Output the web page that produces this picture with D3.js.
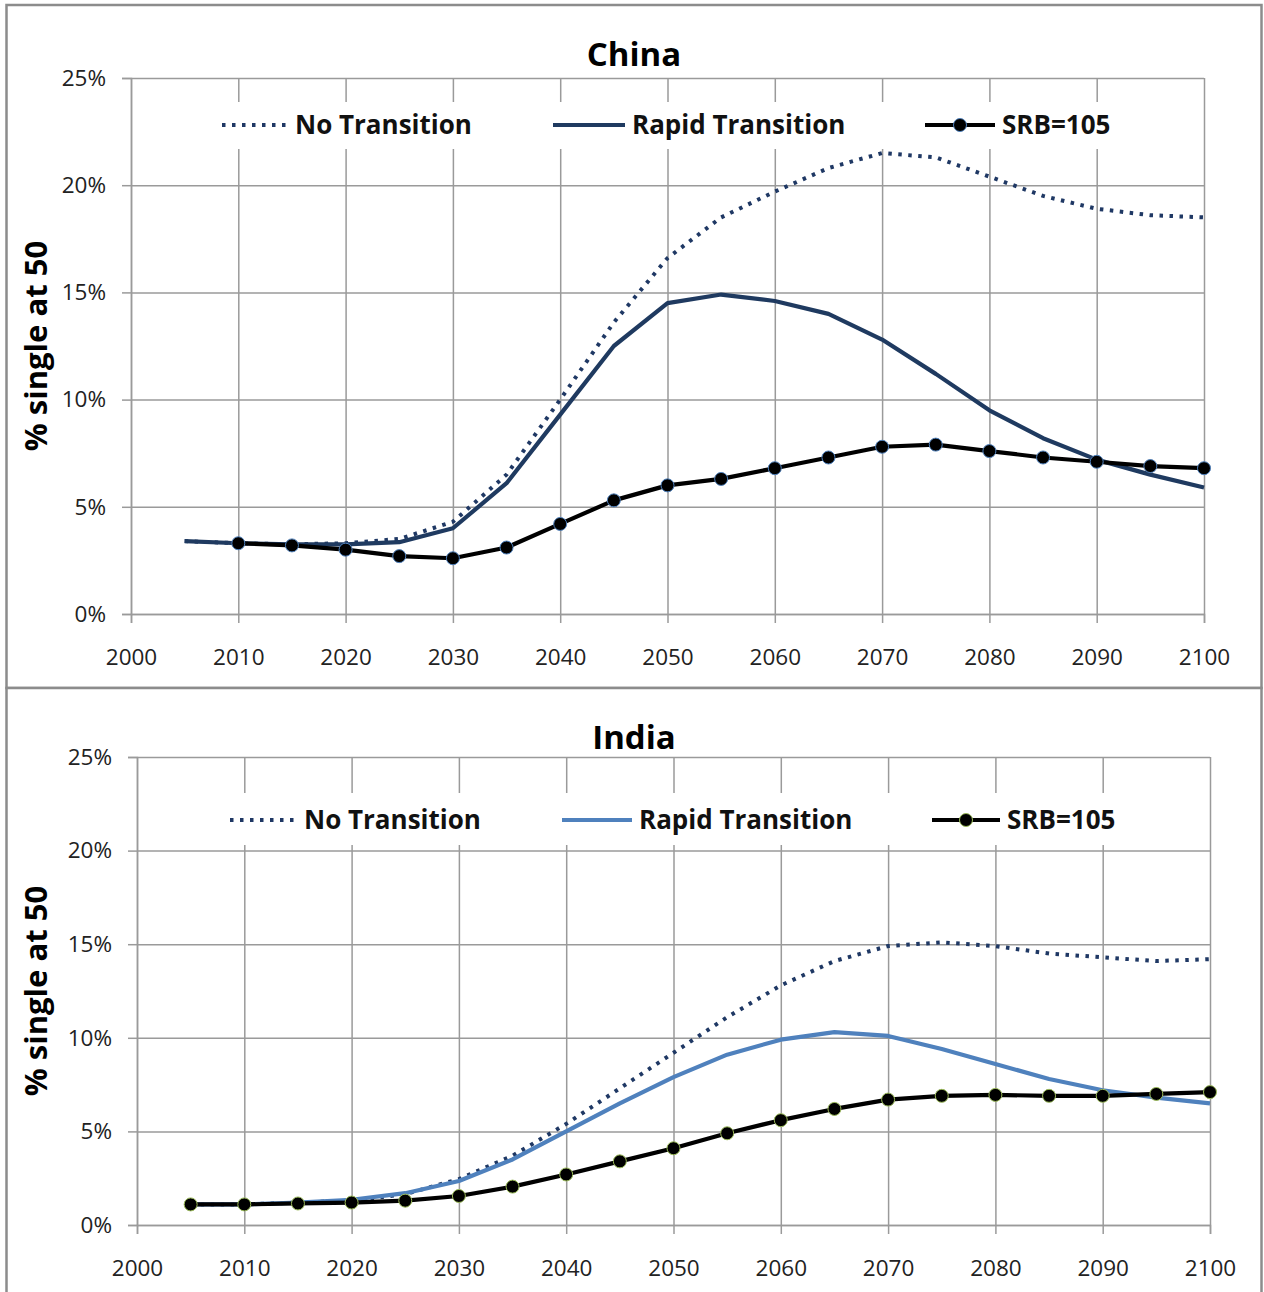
<!DOCTYPE html>
<html>
<head>
<meta charset="utf-8">
<script src="https://cdn.jsdelivr.net/npm/d3@7/dist/d3.min.js"></script>
<style>
  html, body { margin: 0; padding: 0; background: #fff; }
  svg { display: block; }
</style>
</head>
<body>
<svg id="chart" width="1264" height="1292"></svg>
<script>
// ---------- DATA ----------
const years = [2005, 2010, 2015, 2020, 2025, 2030, 2035, 2040, 2045, 2050, 2055, 2060, 2065, 2070, 2075, 2080, 2085, 2090, 2095, 2100];
const xTicks = [2000, 2010, 2020, 2030, 2040, 2050, 2060, 2070, 2080, 2090, 2100];
const yTicks = [0, 5, 10, 15, 20, 25];
const seriesNames = ["No Transition", "Rapid Transition", "SRB=105"];

const chinaNoTransition = [3.4, 3.3, 3.25, 3.3, 3.5, 4.3, 6.5, 10.0, 13.6, 16.6, 18.5, 19.7, 20.8, 21.5, 21.3, 20.4, 19.5, 18.9, 18.6, 18.5];
const chinaRapid        = [3.4, 3.3, 3.25, 3.25, 3.35, 4.0, 6.1, 9.3, 12.5, 14.5, 14.9, 14.6, 14.0, 12.8, 11.2, 9.5, 8.2, 7.2, 6.5, 5.9];
const chinaSRB          = [null, 3.3, 3.2, 3.0, 2.7, 2.6, 3.1, 4.2, 5.3, 6.0, 6.3, 6.8, 7.3, 7.8, 7.9, 7.6, 7.3, 7.1, 6.9, 6.8];

const indiaNoTransition = [1.1, 1.1, 1.2, 1.3, 1.65, 2.45, 3.7, 5.4, 7.3, 9.2, 11.1, 12.8, 14.1, 14.9, 15.1, 14.9, 14.5, 14.3, 14.1, 14.2];
const indiaRapid        = [1.1, 1.1, 1.2, 1.35, 1.7, 2.35, 3.5, 5.0, 6.5, 7.9, 9.1, 9.9, 10.3, 10.1, 9.4, 8.6, 7.8, 7.2, 6.8, 6.5];
const indiaSRB          = [1.1, 1.1, 1.15, 1.2, 1.3, 1.55, 2.05, 2.7, 3.4, 4.1, 4.9, 5.6, 6.2, 6.7, 6.9, 6.95, 6.9, 6.9, 7.0, 7.1];

// ---------- LAYOUT ----------
const svg = d3.select("#chart");
const FONT = "'Open Sans', Lato, 'DejaVu Sans', sans-serif";

const panels = [
  {
    title: "China", top: 5, bottom: 688,
    x0: 131, x1: 1204, yTop: 78, yBot: 614,
    titleY: 66, xLabelY: 665,
    legendY: 125, legendBox: [205, 102, 940, 47],
    legendX: [222, 553, 925], legendLen: [66, 72, 70],
    noTrans: chinaNoTransition, rapid: chinaRapid, srb: chinaSRB,
    noColor: "#1F3864", rapidColor: "#1F3A60", markerStroke: "#4F81BD"
  },
  {
    title: "India", top: 688, bottom: 1300,
    x0: 137, x1: 1210, yTop: 757, yBot: 1225,
    titleY: 749, xLabelY: 1276,
    legendY: 820, legendBox: [215, 793, 930, 52],
    legendX: [230, 562, 932], legendLen: [67, 70, 68],
    noTrans: indiaNoTransition, rapid: indiaRapid, srb: indiaSRB,
    noColor: "#1F3864", rapidColor: "#4F81BD", markerStroke: "#9BBB59"
  }
];

// panel frames
panels.forEach(p => {
  svg.append("rect")
    .attr("x", 6.5).attr("y", p.top)
    .attr("width", 1255).attr("height", p.bottom - p.top)
    .attr("fill", "#fff").attr("stroke", "#8c8c8c").attr("stroke-width", 2.5);
});

panels.forEach(p => {
  const x = d3.scaleLinear().domain([2000, 2100]).range([p.x0, p.x1]);
  const y = d3.scaleLinear().domain([0, 25]).range([p.yBot, p.yTop]);
  const g = svg.append("g");

  // horizontal gridlines
  g.append("g").attr("transform", `translate(${p.x0},0)`)
    .call(d3.axisLeft(y).tickValues(yTicks).tickSize(-(p.x1 - p.x0)).tickFormat(""))
    .call(s => s.select(".domain").remove())
    .call(s => s.selectAll("line").attr("stroke", "#9a9a9a").attr("stroke-width", 1.5));
  // vertical gridlines
  g.append("g").attr("transform", `translate(0,${p.yBot})`)
    .call(d3.axisBottom(x).tickValues(xTicks).tickSize(-(p.yBot - p.yTop)).tickFormat(""))
    .call(s => s.select(".domain").remove())
    .call(s => s.selectAll("line").attr("stroke", "#9a9a9a").attr("stroke-width", 1.5));

  // y axis with outer ticks and labels
  g.append("g").attr("transform", `translate(${p.x0},0)`)
    .call(d3.axisLeft(y).tickValues(yTicks).tickSize(9).tickPadding(16).tickFormat(d => d + "%"))
    .call(s => s.select(".domain").attr("stroke", "#9a9a9a").attr("stroke-width", 1.5))
    .call(s => s.selectAll("line").attr("stroke", "#9a9a9a").attr("stroke-width", 1.5))
    .call(s => s.selectAll("text").attr("font-family", FONT).attr("font-size", 22.5).attr("fill", "#222"));
  // x axis
  g.append("g").attr("transform", `translate(0,${p.yBot})`)
    .call(d3.axisBottom(x).tickValues(xTicks).tickSize(9).tickFormat(d3.format("d")))
    .call(s => s.select(".domain").attr("stroke", "#9a9a9a").attr("stroke-width", 1.5))
    .call(s => s.selectAll("line").attr("stroke", "#9a9a9a").attr("stroke-width", 1.5))
    .call(s => s.selectAll("text").attr("font-family", FONT).attr("font-size", 22.5).attr("fill", "#222")
      .attr("dy", null).attr("y", p.xLabelY - p.yBot));

  // legend background
  g.append("rect")
    .attr("x", p.legendBox[0]).attr("y", p.legendBox[1])
    .attr("width", p.legendBox[2]).attr("height", p.legendBox[3])
    .attr("fill", "#fff");

  // title
  g.append("text").attr("x", 634).attr("y", p.titleY).attr("text-anchor", "middle")
    .attr("font-family", FONT).attr("font-weight", "bold").attr("font-size", 33)
    .attr("fill", "#000").text(p.title);

  // y axis title
  const ymid = (p.yTop + p.yBot) / 2;
  g.append("text").attr("transform", `translate(47,${ymid}) rotate(-90)`)
    .attr("text-anchor", "middle")
    .attr("font-family", FONT).attr("font-weight", "bold").attr("font-size", 31)
    .attr("fill", "#000").text("% single at 50");

  const line = d3.line().defined(d => d[1] != null).x(d => x(d[0])).y(d => y(d[1]));
  const pts = arr => years.map((yr, i) => [yr, arr[i]]);

  // series lines
  g.append("path").datum(pts(p.noTrans)).attr("d", line)
    .attr("fill", "none").attr("stroke", p.noColor).attr("stroke-width", 4)
    .attr("stroke-dasharray", "3.5,6.5");
  g.append("path").datum(pts(p.rapid)).attr("d", line)
    .attr("fill", "none").attr("stroke", p.rapidColor).attr("stroke-width", 4.2)
    .attr("stroke-linejoin", "round");
  g.append("path").datum(pts(p.srb)).attr("d", line)
    .attr("fill", "none").attr("stroke", "#000").attr("stroke-width", 4.2)
    .attr("stroke-linejoin", "round");
  g.selectAll("circle.m").data(pts(p.srb).filter(d => d[1] != null)).enter()
    .append("circle").attr("class", "m")
    .attr("cx", d => x(d[0])).attr("cy", d => y(d[1])).attr("r", 6.5)
    .attr("fill", "#000").attr("stroke", p.markerStroke).attr("stroke-width", 1);

  // legend
  const styles = [
    {color: p.noColor, dash: "3.5,6.5", marker: false},
    {color: p.rapidColor, dash: null, marker: false},
    {color: "#000", dash: null, marker: true}
  ];
  seriesNames.forEach((name, i) => {
    const lx = p.legendX[i], len = p.legendLen[i];
    g.append("line").attr("x1", lx).attr("x2", lx + len)
      .attr("y1", p.legendY).attr("y2", p.legendY)
      .attr("stroke", styles[i].color).attr("stroke-width", 4)
      .attr("stroke-dasharray", styles[i].dash);
    if (styles[i].marker) {
      g.append("circle").attr("cx", lx + len / 2).attr("cy", p.legendY).attr("r", 6.5)
        .attr("fill", "#000").attr("stroke", p.markerStroke).attr("stroke-width", 1);
    }
    g.append("text").attr("x", lx + len + 7).attr("y", p.legendY)
      .attr("dy", "0.36em")
      .attr("font-family", FONT).attr("font-weight", "bold").attr("font-size", 26)
      .attr("fill", "#111").text(name);
  });
});
</script>
</body>
</html>
